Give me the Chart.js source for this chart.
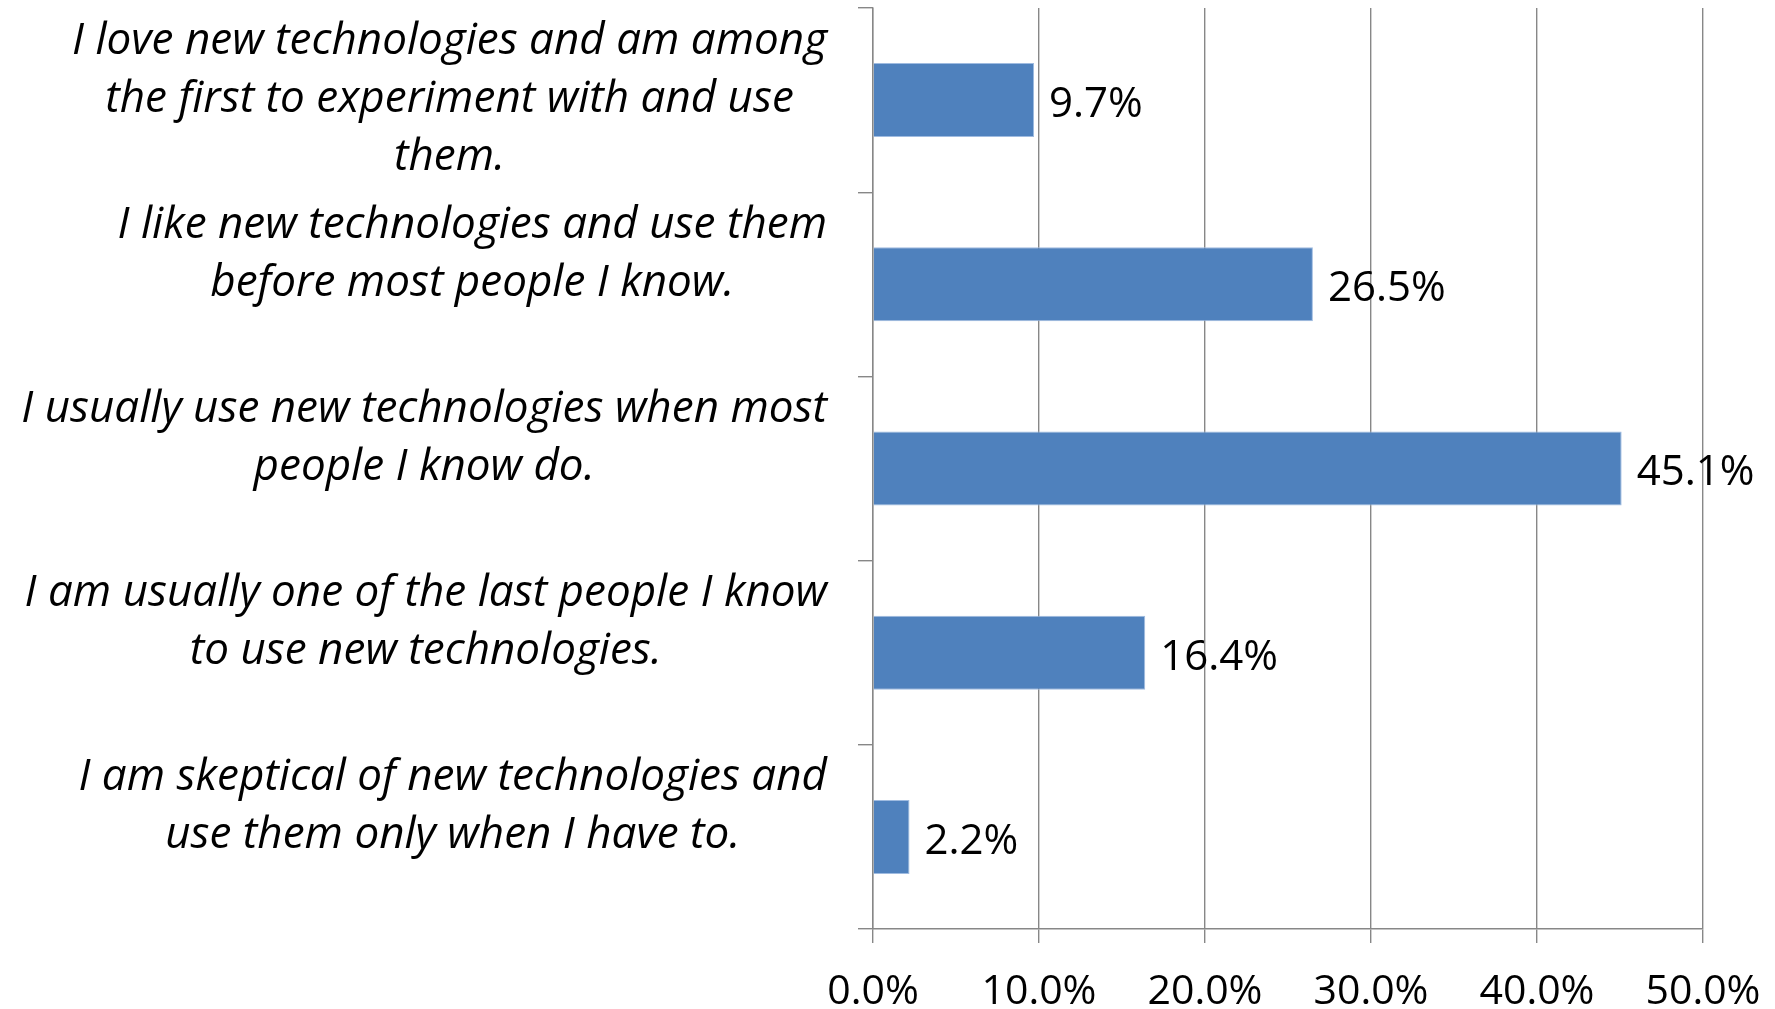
<!DOCTYPE html>
<html>
<head>
<meta charset="utf-8">
<script src="https://cdn.jsdelivr.net/npm/chart.js@4/dist/chart.umd.min.js"></script>
<style>
  html, body { margin: 0; padding: 0; background: #fff; }
  #wrap { width: 1775px; height: 1009px; position: relative; }
</style>
</head>
<body>
<div id="wrap"><canvas id="c" width="1775" height="1009"></canvas></div>
<script>
const categories = [
  ["I love new technologies and am among", "the first to experiment with and use", "them."],
  ["I like new technologies and use them", "before most people I know."],
  ["I usually use new technologies when most", "people I know do."],
  ["I am usually one of the last people I know", "to use new technologies."],
  ["I am skeptical of new technologies and", "use them only when I have to."]
];
const values = [9.7, 26.5, 45.1, 16.4, 2.2];
const xTickMin = 0, xTickMax = 50, xTickStep = 10;

const GRAY = '#878787';
const LABEL_FONT = 'italic 44px "Open Sans"';
const NUM_FONT = '42px "Open Sans"';

const catLabelPlugin = {
  id: 'catLabels',
  afterDraw(chart) {
    const ctx = chart.ctx;
    const ys = chart.scales.y;
    const rightEdge = 827;
    const lineH = 58;
    ctx.save();
    ctx.font = LABEL_FONT;
    ctx.fillStyle = '#000';
    ctx.textBaseline = 'middle';
    ctx.textAlign = 'center';
    categories.forEach((lines, i) => {
      const cy = ys.getPixelForValue(i);
      const w = Math.max(...lines.map(l => ctx.measureText(l).width));
      const cx = rightEdge - w / 2;
      lines.forEach((l, k) => {
        ctx.fillText(l, cx, cy - 59 + k * lineH);
      });
    });
    ctx.restore();
  }
};

const valueLabelPlugin = {
  id: 'valueLabels',
  afterDatasetsDraw(chart) {
    const ctx = chart.ctx;
    const meta = chart.getDatasetMeta(0);
    ctx.save();
    ctx.font = NUM_FONT;
    ctx.fillStyle = '#000';
    ctx.textBaseline = 'middle';
    ctx.textAlign = 'left';
    meta.data.forEach((bar, i) => {
      ctx.fillText(values[i].toFixed(1) + '%', bar.x + 15, bar.y + 5);
    });
    ctx.restore();
  }
};

new Chart(document.getElementById('c'), {
  type: 'bar',
  data: {
    labels: categories,
    datasets: [{
      data: values,
      backgroundColor: '#4F81BD',
      borderColor: '#9fbbe0',
      borderWidth: 1,
      categoryPercentage: 1,
      barPercentage: 0.402
    }]
  },
  options: {
    indexAxis: 'y',
    responsive: false,
    animation: false,
    devicePixelRatio: 1,
    layout: { padding: { top: 8, right: 72, left: 0, bottom: 0 } },
    plugins: { legend: { display: false }, tooltip: { enabled: false } },
    scales: {
      x: {
        min: xTickMin, max: xTickMax,
        ticks: {
          stepSize: xTickStep,
          color: '#000',
          font: { family: 'Open Sans', size: 41 },
          padding: 25,
          maxRotation: 0,
          callback: v => v.toFixed(1) + '%'
        },
        grid: { color: GRAY, lineWidth: 1.4, tickLength: 14, tickColor: GRAY },
        border: { color: GRAY, width: 1.4 },
        afterFit(s) { s.height = 1009 - 929; s.paddingLeft = 0; s.paddingRight = 0; }
      },
      y: {
        ticks: { display: false },
        grid: { drawOnChartArea: false, color: GRAY, lineWidth: 1.4, tickLength: 15, offset: true },
        border: { color: GRAY, width: 1.4 },
        afterFit(s) { s.width = 873; s.paddingTop = 0; s.paddingBottom = 0; }
      }
    }
  },
  plugins: [catLabelPlugin, valueLabelPlugin]
});
</script>
</body>
</html>
